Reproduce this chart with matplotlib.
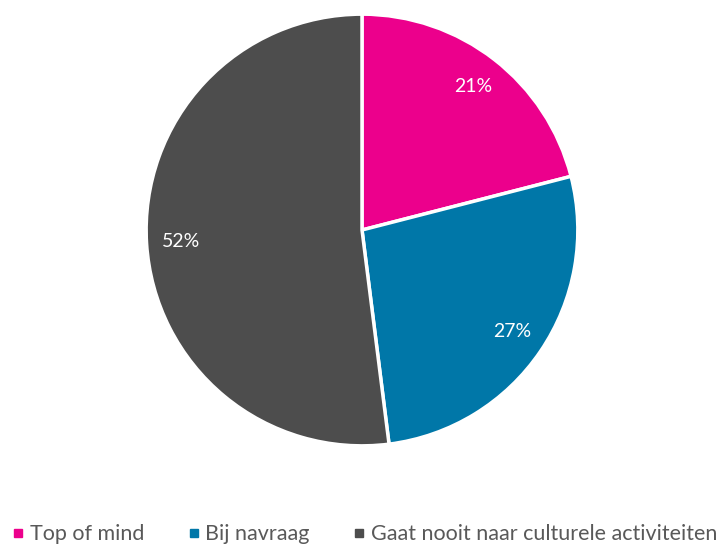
import matplotlib
matplotlib.use("Agg")
import matplotlib.pyplot as plt
from matplotlib.lines import Line2D

plt.rcParams['font.family'] = ['Lato', 'DejaVu Sans']

labels = ["Top of mind", "Bij navraag", "Gaat nooit naar culturele activiteiten"]
values = [21, 27, 52]
colors = ["#EC008C", "#0077A8", "#4D4D4D"]

fig = plt.figure(figsize=(7.25, 5.45), dpi=100)
ax = fig.add_axes([(362 - 218) / 725, (545 - 230 - 218) / 545, 436 / 725, 436 / 545])

wedges, texts, autotexts = ax.pie(values, colors=colors, startangle=90, counterclock=False,
                                  autopct="%d%%", pctdistance=0.84, radius=1.0,
                                  wedgeprops=dict(edgecolor="white", linewidth=2.5),
                                  textprops=dict(color="white", fontsize=14))
ax.set_xlim(-1.01, 1.01)
ax.set_ylim(-1.01, 1.01)
ax.set_aspect("equal")

handles = [Line2D([], [], marker="s", linestyle="", color=c, markersize=6) for c in colors]
fig.legend(handles, labels, loc="lower left", bbox_to_anchor=(-0.005, -0.022), ncol=3,
           frameon=False, handletextpad=0.15, columnspacing=1.9,
           handlelength=0.8, borderaxespad=0.2, labelcolor="#595959",
           prop=dict(size=15.5))

fig.savefig("out.png", dpi=100)
